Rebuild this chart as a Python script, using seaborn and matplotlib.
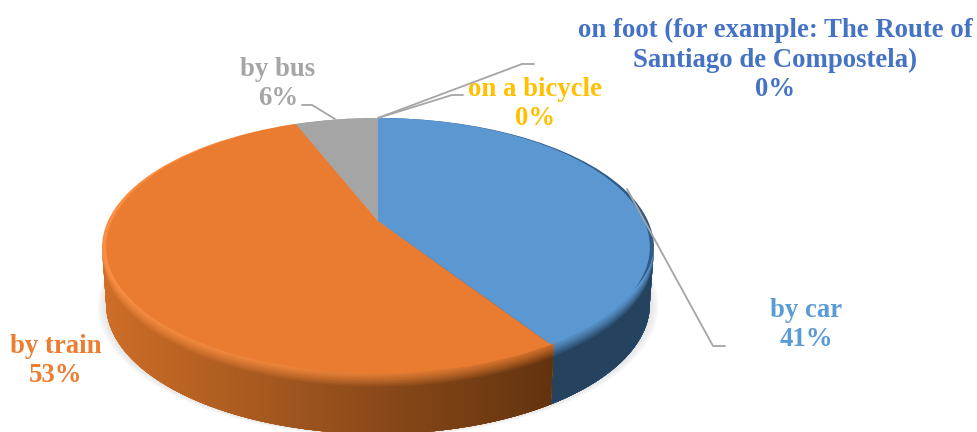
import numpy as np
import matplotlib
matplotlib.use('Agg')
import matplotlib.pyplot as plt
import matplotlib.colors as mc
from matplotlib.path import Path
from matplotlib.transforms import Transform
import seaborn as sns

# values, clockwise from 12 o'clock
categories = ['by car', 'by train', 'by bus', 'on a bicycle',
              'on foot (for example: The Route of\nSantiago de Compostela)']
shares = [41, 53, 6, 0, 0]
top_colors = ['#5B98D2', '#E97C30', '#A5A5A5', '#FFC000', '#4472C4']
rim_colors = ['#2F5B85', '#F98E42', '#A5A5A5', '#FFC000', '#4472C4']
label_colors = ['#5B9BD5', '#ED7D31', '#A5A5A5', '#FFC000', '#4472C4']

sns.set_theme(style='white')
plt.rcParams['font.family'] = ['Liberation Serif', 'DejaVu Serif']

W, H = 978, 432
CX, TIP_Y = 378, 221
TILT = 0.2077
AX, BY, LIFT = 270, 130, 27
DEPTH = 56


def project(x, y, sx=1.0, drop=0.0):
    # flat unit circle -> pixel position on the tilted disc
    w = 1 + TILT * y
    return CX + sx * AX * x / w, TIP_Y + LIFT - (BY * y + LIFT) / w + drop


class DiscTransform(Transform):
    input_dims = 2
    output_dims = 2
    is_separable = False
    has_inverse = False

    def __init__(self, sx, front=1.0):
        super().__init__()
        self.sx = sx
        self.front = front

    def transform_non_affine(self, values):
        px, py = project(values[:, 0], values[:, 1], self.sx)
        # front of the face stops a little short of the rim, bevel shows there
        py = np.where(py > TIP_Y, TIP_Y + (py - TIP_Y) * self.front, py)
        return np.column_stack([px, py])


def ramp(stops, xs):
    # colours along x from (x, colour) stops
    pos = [s[0] for s in stops]
    rgb = np.array([mc.to_rgb(s[1]) for s in stops])
    return np.column_stack([np.interp(xs, pos, rgb[:, c]) for c in range(3)])


wall_stops = {
    0: [(0, '#233F5A'), (W, '#233F5A')],
    1: [(107, '#CC6C26'), (300, '#9A521D'), (552, '#5E310E')],
}
bevel_stops = {
    0: [(0, '#5B98D2'), (W, '#5B98D2')],
    1: [(107, '#FA9045'), (300, '#F58A3E'), (552, '#D8732A')],
}

fig = plt.figure(figsize=(W / 100, H / 100), dpi=100)
ax = fig.add_axes([0, 0, 1, 1])

# soft shadow round the foot of the disc
t = np.linspace(0, 2 * np.pi, 240)
for grow in range(1, 9):
    sx = 0.985 + grow * 0.004
    px, py = project(np.sin(t), np.cos(t), sx, DEPTH + grow * 0.3)
    ax.fill(px, py, color='#777777', alpha=0.025, lw=0, zorder=1)


def wall_outline(a, b, t1):
    # band from level t1 down to the foot, closed along the disc's silhouette
    th = np.linspace(a, b, 160)
    x, y = np.sin(th), np.cos(th)
    drop = t1 * np.clip(-y / 0.6, 0, 1) if t1 < 0 else t1
    s1 = 1 - 0.015 * max(t1, 0) / DEPTH
    p1 = project(x, y, s1, drop)
    p2 = project(x, y, 0.985, DEPTH)
    return np.column_stack([np.r_[p1[0], p2[0][::-1]], np.r_[p1[1], p2[1][::-1]]])


# side wall: nested bands, each a horizontal colour ramp clipped to the band
xs = np.arange(W) + 0.5
ends = np.cumsum([0] + shares) / 100 * 2 * np.pi
side = np.arccos(-TILT)
levels = np.arange(-8, 10, 1.5)
for i in [0, 1]:
    a, b = max(ends[i], side), min(ends[i + 1], 2 * np.pi - side)
    bevel, wall = ramp(bevel_stops[i], xs), ramp(wall_stops[i], xs)
    for t1 in levels:
        f = np.clip((t1 + 8) / 17, 0, 1) ** 1.3
        row = (bevel * (1 - f) + wall * f)[None, :, :]
        im = ax.imshow(row, extent=(0, W, H, 0), aspect='auto', interpolation='nearest', zorder=2)
        im.set_clip_path(Path(wall_outline(a, b, t1)), ax.transData)

# thin rim behind the face, showing at the two sides
rim, _ = ax.pie(shares, colors=rim_colors, startangle=90, counterclock=False,
                wedgeprops={'linewidth': 0})
for w in rim:
    w.set_transform(DiscTransform(1.0) + ax.transData)
    w.set_zorder(1.5)

# top face: an ordinary pie pushed through the tilt
wedges, _ = ax.pie(shares, colors=top_colors, startangle=90, counterclock=False,
                   wedgeprops={'linewidth': 0})
for w in wedges:
    w.set_transform(DiscTransform(0.985, 0.97) + ax.transData)
    w.set_zorder(3)

ax.set_aspect('auto')
ax.set_xlim(0, W)
ax.set_ylim(H, 0)
ax.axis('off')

# leader lines
leaders = [
    ([627, 713, 725], [189, 346, 346]),
    ([302, 312, 335], [105, 105, 119]),
    ([378, 452, 463], [118, 95, 95]),
    ([378, 522, 534], [118, 64, 64]),
]
for lx, ly in leaders:
    ax.plot(lx, ly, color='#A5A5A5', lw=1.3, zorder=4, solid_joinstyle='miter')

# labels
label_pos = [(806, 325), (56, 361), (278, 84), (535, 104), (775, 60)]
for name, share, col, (lx, ly) in zip(categories, shares, label_colors, label_pos):
    ax.text(lx, ly, f'{name}\n{share}%', color=col, ha='center', va='center',
            fontsize=19.3, fontweight='bold', linespacing=1.25, zorder=5)

fig.savefig('out.png', dpi=100)
